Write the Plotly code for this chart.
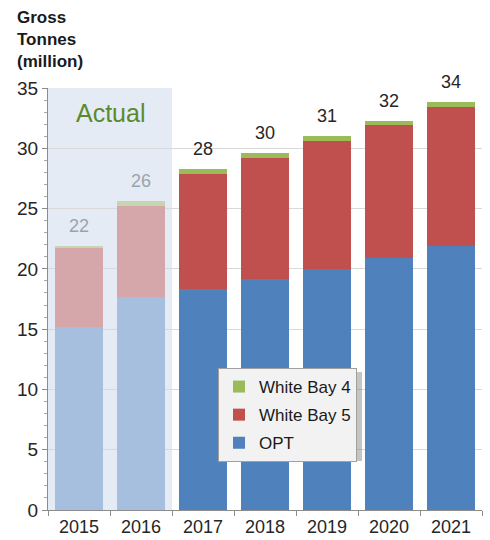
import plotly.graph_objects as go

years = ["2015", "2016", "2017", "2018", "2019", "2020", "2021"]
actual_years = ["2015", "2016"]
opt = [15.2, 17.7, 18.3, 19.2, 20.0, 20.9, 21.9]
wb5 = [6.5, 7.5, 9.6, 10.0, 10.6, 11.0, 11.5]
wb4 = [0.2, 0.4, 0.4, 0.4, 0.4, 0.4, 0.4]
y_ticks = [0, 5, 10, 15, 20, 25, 30, 35]

series = [
    ("OPT", opt, "#4F81BD", "#A6BFDF", 3),
    ("White Bay 5", wb5, "#C0504D", "#D5A6AA", 2),
    ("White Bay 4", wb4, "#9BBB59", "#C5D6AE", 1),
]

FONT = "Liberation Sans, Arial, sans-serif"
fig = go.Figure()

n_act = len(actual_years)
for i, (name, vals, col, faded, rank) in enumerate(series):
    fig.add_trace(go.Bar(
        x=years[:n_act], y=vals[:n_act], name=name, marker_color=faded,
        showlegend=False, legendgroup=f"g{i}", width=0.76, hoverinfo="skip",
        marker_line_width=0, legendrank=rank,
    ))
    fig.add_trace(go.Bar(
        x=years[n_act:], y=vals[n_act:], name=name, marker_color=col,
        showlegend=True, legendgroup=f"g{i}", width=0.76,
        marker_line_width=0, legendrank=rank,
    ))

totals = [a + b + c for a, b, c in zip(opt, wb5, wb4)]
for k, (yr, t) in enumerate(zip(years, totals)):
    fig.add_annotation(
        x=k, y=t, xref="x", yref="y", text=str(int(round(t))), showarrow=False,
        yanchor="bottom", yshift=8,
        font=dict(family=FONT, size=18, color="#9AA3AD" if yr in actual_years else "#262626"),
    )

# Actual shading
fig.add_shape(type="rect", xref="x", yref="y", x0=-0.5, x1=len(actual_years) - 0.5,
              y0=0, y1=35, fillcolor="#E4EBF5", line_width=0, layer="below")
fig.add_annotation(x=0.5, y=32.9, xref="x", yref="y", text="Actual", showarrow=False,
                   font=dict(family=FONT, size=25, color="#5B8A2E"))

# Y-axis title
fig.add_annotation(xref="paper", yref="paper", x=-33 / 434, y=1 + 82 / 422,
                   xanchor="left", yanchor="top", align="left", showarrow=False,
                   text="<b>Gross<br>Tonnes<br>(million)</b>",
                   font=dict(family=FONT, size=17, color="#1a1a1a"))

# legend shadow
lx0, ly0 = (218 - 48) / 434, (510 - 368) / 422
fig.add_shape(type="rect", xref="paper", yref="paper",
              x0=lx0 + 4 / 434, x1=lx0 + 144 / 434, y0=ly0 - 93 / 422, y1=ly0 - 4 / 422,
              fillcolor="rgba(110,110,110,0.4)", line_width=0, layer="above")

fig.update_layout(
    width=490, height=540,
    margin=dict(l=48, r=8, t=88, b=30),
    barmode="stack",
    plot_bgcolor="white", paper_bgcolor="white",
    font=dict(family=FONT, color="#262626"),
    legend=dict(
        x=lx0, y=ly0, xanchor="left", yanchor="top",
        bgcolor="#F2F2F2", bordercolor="#A0A0A0", borderwidth=1,
        traceorder="grouped", tracegroupgap=3, itemwidth=30,
        font=dict(family=FONT, size=17, color="#1a1a1a"),
    ),
    xaxis=dict(
        type="category", categoryorder="array", categoryarray=years, range=[-0.5, 6.5],
        showline=True, linecolor="#8C8C8C", linewidth=1,
        ticks="outside", tickson="boundaries", ticklen=5, tickcolor="#8C8C8C",
        tickfont=dict(family=FONT, size=18, color="#262626"),
        showgrid=False, automargin=False,
    ),
    yaxis=dict(
        range=[0, 35], tickvals=y_ticks,
        showline=True, linecolor="#8C8C8C", linewidth=1,
        ticks="outside", ticklen=5, tickcolor="#8C8C8C",
        tickfont=dict(family=FONT, size=19, color="#262626"),
        showgrid=True, gridcolor="#D9D9D9", gridwidth=1,
        minor=dict(dtick=1, ticks="outside", ticklen=3, tickcolor="#A6A6A6", showgrid=False),
        zeroline=False, automargin=False,
    ),
)

fig.write_html("out.html")
